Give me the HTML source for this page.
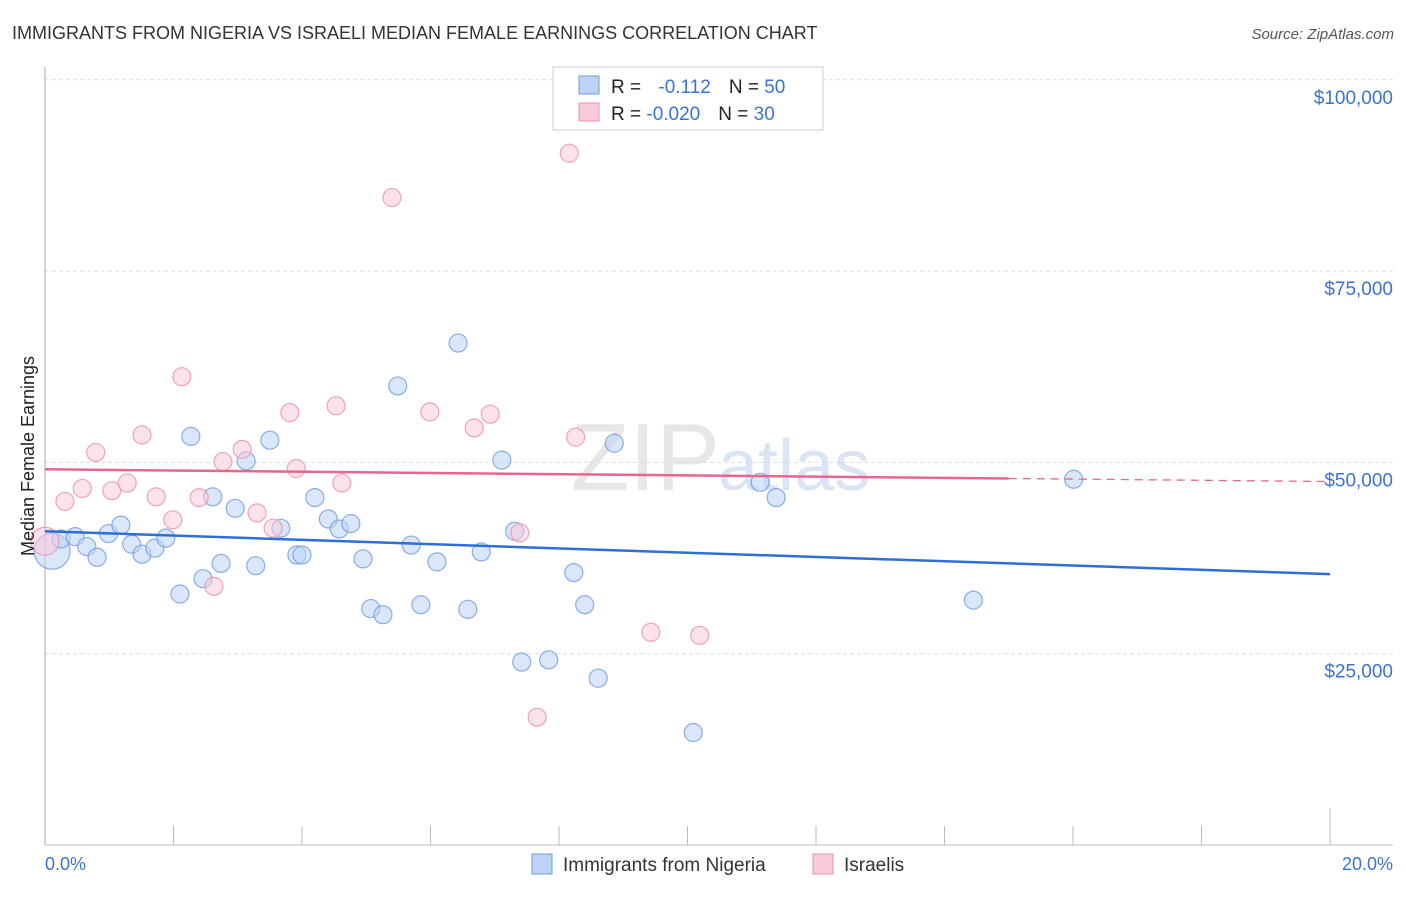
<!DOCTYPE html>
<html><head><meta charset="utf-8"><style>
body{margin:0;background:#fff;font-family:"Liberation Sans",sans-serif}
svg text{font-family:"Liberation Sans",sans-serif}
</style></head><body>
<svg width="1406" height="892" viewBox="0 0 1406 892">
<text x="12" y="39" font-size="18" fill="#333">IMMIGRANTS FROM NIGERIA VS ISRAELI MEDIAN FEMALE EARNINGS CORRELATION CHART</text>
<text x="1394" y="39" font-size="15" fill="#555" font-style="italic" text-anchor="end">Source: ZipAtlas.com</text>
<g id="grid"></g>
<text x="720" y="490" font-size="96" fill="#ddd" font-family="Liberation Serif" text-anchor="end" opacity="0.7">ZIP</text>
<text x="718" y="490" font-size="72" fill="#c9d9f0" opacity="0.7">atlas</text>
<g id="axes"></g>
<g id="pts"></g>
<g id="lines"></g>
<text x="34" y="456" font-size="18" fill="#222" text-anchor="middle" transform="rotate(-90 34 456)">Median Female Earnings</text>
<text x="45" y="870" font-size="18" fill="#3b73d1">0.0%</text>
<text x="1393" y="870" font-size="18" fill="#3b73d1" text-anchor="end">20.0%</text>
<g>
<rect x="553" y="67" width="270" height="63" fill="#fff" stroke="#ccc"/>
<rect x="579" y="76" width="20" height="18" fill="#bcd3f5" stroke="#6e9be0"/>
<rect x="579" y="103" width="20" height="18" fill="#f9cbd8" stroke="#e890ad"/>
<text x="611" y="93" font-size="19" fill="#222">R = <tspan fill="#3b73d1" dx="12">-0.112</tspan><tspan dx="18" fill="#222">N = </tspan><tspan fill="#3b73d1">50</tspan></text>
<text x="611" y="120" font-size="19" fill="#222">R = <tspan fill="#3b73d1">-0.020</tspan><tspan dx="18" fill="#222">N = </tspan><tspan fill="#3b73d1">30</tspan></text>
</g>
<g>
<rect x="532" y="854" width="20" height="20" fill="#bcd3f5" stroke="#6e9be0"/>
<text x="563" y="871" font-size="19" fill="#333">Immigrants from Nigeria</text>
<rect x="813" y="854" width="20" height="20" fill="#f9cbd8" stroke="#e890ad"/>
<text x="844" y="871" font-size="19" fill="#333">Israelis</text>
</g>
</svg>
<script>
const yTicks=[25000,50000,75000,100000];
const yTickLabels=["$25,000","$50,000","$75,000","$100,000"];
const nigeriaX=[0.11,0.25,0.47,0.65,0.81,0.99,1.18,1.35,1.51,1.71,1.88,2.1,2.27,2.46,2.61,2.74,2.96,3.13,3.28,3.5,3.67,3.92,4.0,4.2,4.41,4.58,4.76,4.95,5.07,5.26,5.49,5.85,5.7,6.1,6.43,6.58,6.79,7.11,7.31,7.42,7.84,8.23,8.4,8.61,8.86,10.09,11.13,11.38,14.45,16.01];
const nigeriaY=[38400,40000,40300,39000,37600,40700,41800,39300,38000,38800,40100,32800,53400,34800,45500,36800,44000,50200,36500,52900,41400,37900,37900,45400,42600,41300,42000,37400,30900,30100,59990,31400,39200,37000,65600,30800,38300,50300,41000,23900,24200,35600,31400,21800,52500,14700,47400,45400,32000,47800];
const israeliX=[0.0,0.31,0.58,0.79,1.04,1.28,1.51,1.73,1.99,2.13,2.4,2.63,2.77,3.07,3.3,3.55,3.81,3.91,4.53,4.62,5.4,5.99,6.68,6.93,7.39,7.66,8.16,8.26,9.43,10.19];
const israeliY=[39700,44900,46600,51300,46300,47300,53600,45500,42500,61200,45400,33800,50100,51700,43400,41400,56500,49200,57400,47300,84600,56600,54500,56300,40800,16700,90400,53300,27800,27400];
const trendX=[0,20];
const nigeriaTrend=[41000,35400];
const israeliTrend=[49100,47500];
const israeliSolidEnd=15.0;

const NS="http://www.w3.org/2000/svg";
const X0=45,X1=1330,YB=845,PX_PER_25K=191.3;
const xs=v=>X0+(X1-X0)*v/20;
const ys=v=>YB-v/25000*PX_PER_25K;
function mk(tag,attrs,parent){const e=document.createElementNS(NS,tag);for(const k in attrs)e.setAttribute(k,attrs[k]);parent.appendChild(e);return e;}
const grid=document.getElementById('grid'),axes=document.getElementById('axes'),pts=document.getElementById('pts'),lines=document.getElementById('lines');
yTicks.forEach((t,i)=>{
  const y=ys(t);
  const l=mk('line',{x1:X0,x2:1393,y1:y,y2:y,stroke:'#ddd','stroke-dasharray':'4 3'},grid);
  
  
  const tx=mk('text',{x:1393,y:y+24,'font-size':19,fill:'#3b73d1','text-anchor':'end'},grid);
  tx.textContent=yTickLabels[i];
  
  
});
let a=mk('line',{x1:X0,x2:X0,y1:67,y2:YB,stroke:'#aaa'},axes);


a=mk('line',{x1:X0,x2:1393,y1:YB,y2:YB,stroke:'#bbb'},axes);


for(let i=1;i<=10;i++){
  const x=xs(i*2);
  const t=mk('line',{x1:x,x2:x,y1:i==10?808:826,y2:YB,stroke:'#bbb'},axes);
  
  
}
function drawPts(X,Y,fill,stroke,name){
  X.forEach((v,i)=>{
    const r=i==0?(name=='nigeria-point'?18:14):9;
    const c=mk('circle',{cx:xs(v),cy:ys(Y[i]),r:r,fill:fill,'fill-opacity':0.55,stroke:stroke,'stroke-width':1.2,'stroke-opacity':0.8},pts);
    
    
  });
}
drawPts(nigeriaX,nigeriaY,'#bcd3f5','#6e9be0','nigeria-point');
drawPts(israeliX,israeliY,'#f9cbd8','#e890ad','israeli-point');
let ln=mk('line',{x1:xs(trendX[0]),y1:ys(nigeriaTrend[0]),x2:xs(trendX[1]),y2:ys(nigeriaTrend[1]),stroke:'#2d6fd6','stroke-width':2.5},lines);


const iy=v=>israeliTrend[0]+(israeliTrend[1]-israeliTrend[0])*(v-trendX[0])/(trendX[1]-trendX[0]);
ln=mk('line',{x1:xs(trendX[0]),y1:ys(israeliTrend[0]),x2:xs(israeliSolidEnd),y2:ys(iy(israeliSolidEnd)),stroke:'#e5668e','stroke-width':2.5},lines);


ln=mk('line',{x1:xs(israeliSolidEnd),y1:ys(iy(israeliSolidEnd)),x2:xs(trendX[1]),y2:ys(israeliTrend[1]),stroke:'#e5668e','stroke-width':1.3,'stroke-dasharray':'8 6'},lines);


</script>
</body></html>
